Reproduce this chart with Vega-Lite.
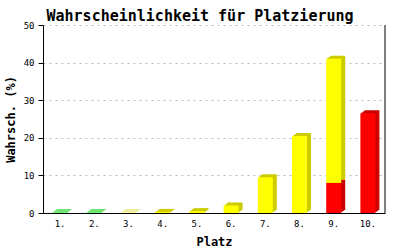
{
  "$schema": "https://vega.github.io/schema/vega-lite/v6.json",
  "width": 342,
  "height": 188,
  "autosize": {"type": "none"},
  "padding": {"left": 43, "top": 25, "right": 15, "bottom": 37},
  "background": "white",
  "title": {
    "text": "Wahrscheinlichkeit für Platzierung",
    "font": "DejaVu Sans Mono",
    "fontSize": 15,
    "fontWeight": "bold",
    "color": "black",
    "anchor": "middle",
    "frame": "group",
    "dx": -14,
    "offset": -3
  },
  "data": {
    "values": [
      {"platz": "1.", "wert": 0.15, "farbe": "gruen"},
      {"platz": "2.", "wert": 0.15, "farbe": "gruen"},
      {"platz": "3.", "wert": 0.1, "farbe": "gelb"},
      {"platz": "4.", "wert": 0.3, "farbe": "gelb"},
      {"platz": "5.", "wert": 0.5, "farbe": "gelb"},
      {"platz": "6.", "wert": 2.0, "farbe": "gelb"},
      {"platz": "7.", "wert": 9.5, "farbe": "gelb"},
      {"platz": "8.", "wert": 20.5, "farbe": "gelb"},
      {"platz": "9.", "wert": 33.0, "farbe": "gelb"},
      {"platz": "9.", "wert": 8.0, "farbe": "rot"},
      {"platz": "10.", "wert": 26.5, "farbe": "rot"}
    ]
  },
  "encoding": {
    "x": {
      "field": "platz",
      "type": "nominal",
      "sort": ["1.", "2.", "3.", "4.", "5.", "6.", "7.", "8.", "9.", "10."],
      "scale": {"paddingInner": 0, "paddingOuter": 0},
      "title": "Platz"
    }
  },
  "layer": [
    {
      "mark": {"type": "bar", "size": 15, "xOffset": 1.3, "yOffset": -1},
      "encoding": {
        "y": {
          "field": "wert", "type": "quantitative", "stack": "zero",
          "scale": {"domain": [0, 50], "nice": false},
          "title": "Wahrsch. (%)"
        },
        "order": {"field": "farbe", "sort": "descending"},
        "color": {
          "field": "farbe", "type": "nominal", "legend": null,
          "scale": {"domain": ["gruen", "gelb", "rot"], "range": ["#00cc00", "#cccc00", "#cc0000"]}
        }
      }
    },
    {
      "mark": {"type": "bar", "size": 15, "xOffset": 2.7, "yOffset": -2},
      "encoding": {
        "y": {"field": "wert", "type": "quantitative", "stack": "zero", "title": "Wahrsch. (%)"},
        "order": {"field": "farbe", "sort": "descending"},
        "color": {
          "field": "farbe", "type": "nominal", "legend": null,
          "scale": {"domain": ["gruen", "gelb", "rot"], "range": ["#00cc00", "#cccc00", "#cc0000"]}
        }
      }
    },
    {
      "mark": {"type": "bar", "size": 15, "xOffset": 4, "yOffset": -3},
      "encoding": {
        "y": {"field": "wert", "type": "quantitative", "stack": "zero", "title": "Wahrsch. (%)"},
        "order": {"field": "farbe", "sort": "descending"},
        "color": {
          "field": "farbe", "type": "nominal", "legend": null,
          "scale": {"domain": ["gruen", "gelb", "rot"], "range": ["#00cc00", "#cccc00", "#cc0000"]}
        }
      }
    },
    {
      "mark": {"type": "bar", "size": 15},
      "encoding": {
        "y": {"field": "wert", "type": "quantitative", "stack": "zero", "title": "Wahrsch. (%)"},
        "order": {"field": "farbe", "sort": "descending"},
        "color": {
          "field": "farbe", "type": "nominal", "legend": null,
          "scale": {"domain": ["gruen", "gelb", "rot"], "range": ["#00ee00", "#ffff00", "#ff0000"]}
        }
      }
    },
    {
      "data": {"values": [{"platz": "10."}]},
      "mark": {"type": "rule", "color": "black", "strokeWidth": 1},
      "encoding": {
        "x": {
          "field": "platz",
          "type": "nominal",
          "sort": ["1.", "2.", "3.", "4.", "5.", "6.", "7.", "8.", "9.", "10."],
          "bandPosition": 1,
          "title": "Platz"
        }
      }
    }
  ],
  "resolve": {"scale": {"color": "independent"}},
  "config": {
    "view": {"stroke": null},
    "axis": {
      "labelFont": "DejaVu Sans Mono",
      "labelFontSize": 9,
      "labelColor": "black",
      "domainColor": "black",
      "tickColor": "black",
      "titleFont": "DejaVu Sans Mono",
      "titleFontSize": 12,
      "titleFontWeight": "bold",
      "titleColor": "black"
    },
    "axisX": {
      "labelAngle": 0,
      "labelPadding": 6,
      "ticks": false,
      "grid": false,
      "titlePadding": 8
    },
    "axisY": {
      "tickCount": 5,
      "grid": true,
      "gridColor": "#bbbbbb",
      "gridDash": [2, 4],
      "tickSize": 5,
      "labelPadding": 4,
      "titlePadding": 6
    }
  }
}
